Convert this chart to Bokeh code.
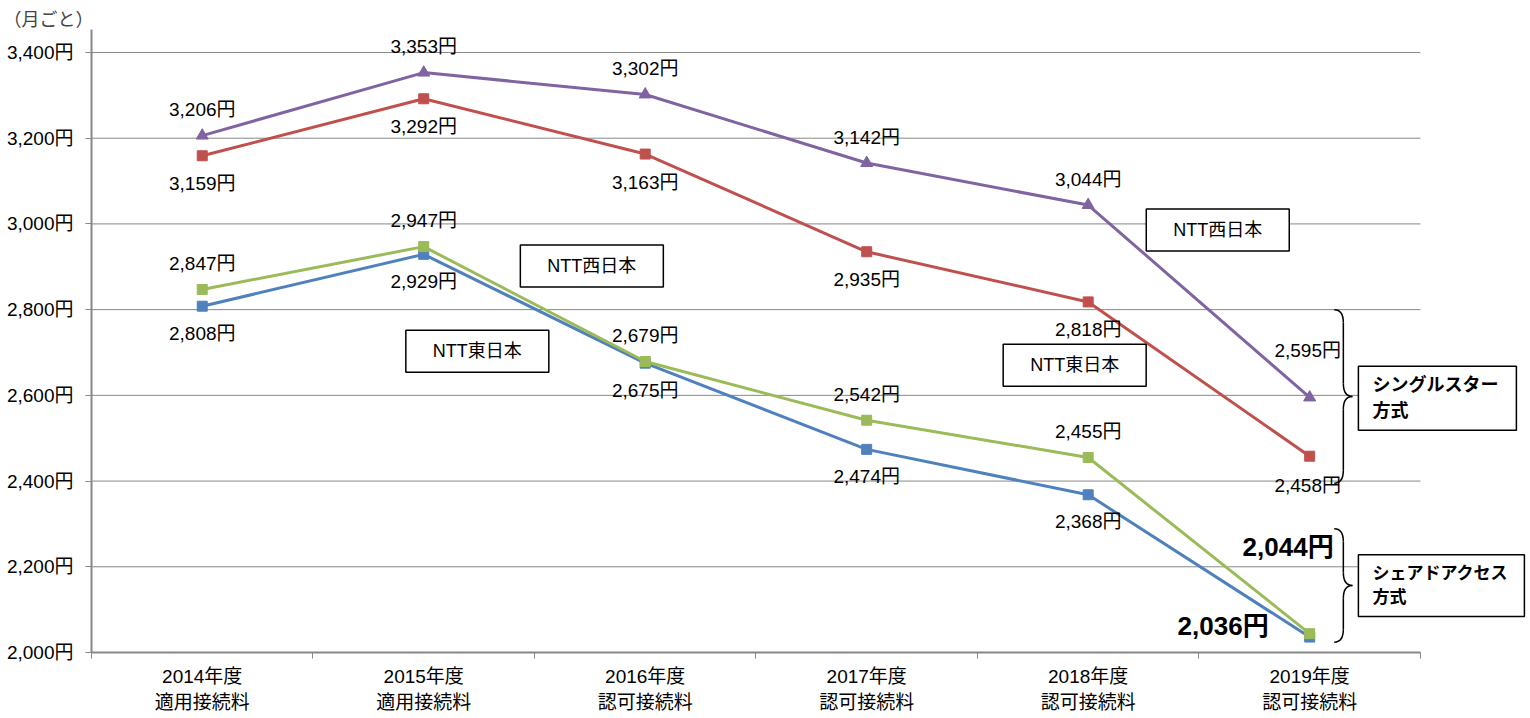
from bokeh.plotting import figure
from bokeh.models import Range1d, FixedTicker, Label, ColumnDataSource
from bokeh.core.properties import value
from bokeh.embed import file_html
from bokeh.resources import INLINE

# ---- data ----
categories = ["2014年度\n適用接続料", "2015年度\n適用接続料", "2016年度\n認可接続料",
              "2017年度\n認可接続料", "2018年度\n認可接続料", "2019年度\n認可接続料"]
west_single = [3206, 3353, 3302, 3142, 3044, 2595]   # purple, triangles
east_single = [3159, 3292, 3163, 2935, 2818, 2458]   # red
west_shared = [2847, 2947, 2679, 2542, 2455, 2044]   # green
east_shared = [2808, 2929, 2675, 2474, 2368, 2036]   # blue
y_ticks = [2000, 2200, 2400, 2600, 2800, 3000, 3200, 3400]
unit_label = "（月ごと）"

FONT = "Liberation Sans, Noto Sans CJK JP"
GRID = "#878787"
C_PURPLE = "#8064A2"
C_RED = "#C0504D"
C_GREEN = "#9BBB59"
C_BLUE = "#4F81BD"

n = len(categories)
xs = [i + 0.5 for i in range(n)]

p = figure(width=1528, height=715, x_range=Range1d(0, 6.488), y_range=Range1d(2000, 3453.6),
           output_backend="svg", toolbar_location=None,
           min_border_left=91, min_border_right=0, min_border_top=29, min_border_bottom=62)
p.outline_line_color = None
p.background_fill_color = "white"

p.title.text = unit_label
p.title.align = "left"
p.title.offset = -88
p.title.text_font = FONT
p.title.text_font_size = "18px"
p.title.text_font_style = "normal"
p.title.standoff = 0

# axes
p.yaxis.ticker = FixedTicker(ticks=y_ticks)
p.yaxis.major_label_overrides = {v: f"{v:,}円" for v in y_ticks}
p.yaxis.axis_line_color = GRID
p.yaxis.axis_line_width = 2
p.yaxis.major_tick_line_color = GRID
p.yaxis.major_tick_out = 6
p.yaxis.major_tick_in = 0
p.yaxis.minor_tick_line_color = None
p.yaxis.major_label_standoff = 12
p.yaxis.major_label_text_font = FONT
p.yaxis.major_label_text_font_size = "19px"
p.yaxis.major_label_text_color = "black"

p.xaxis.bounds = (0, n)
p.xaxis.ticker = FixedTicker(ticks=xs, minor_ticks=list(range(n + 1)))
p.xaxis.major_label_overrides = {x: c for x, c in zip(xs, categories)}
p.xaxis.axis_line_color = GRID
p.xaxis.axis_line_width = 2
p.xaxis.major_tick_line_color = None
p.xaxis.minor_tick_line_color = GRID
p.xaxis.minor_tick_out = 6
p.xaxis.minor_tick_in = 0
p.xaxis.major_label_standoff = 7
p.xaxis.major_label_text_font = FONT
p.xaxis.major_label_text_font_size = "19px"
p.xaxis.major_label_text_line_height = 1.25
p.xaxis.major_label_text_color = "black"

p.xgrid.grid_line_color = None
p.ygrid.grid_line_color = None
p.segment(x0=[0] * len(y_ticks), x1=[n] * len(y_ticks), y0=y_ticks, y1=y_ticks,
          line_color=GRID, line_width=1, level="underlay")

# lines
series = [
    (east_shared, C_BLUE, "square", 10, 27),
    (west_shared, C_GREEN, "square", 10, -26),
    (east_single, C_RED, "square", 10, 28),
    (west_single, C_PURPLE, "triangle", 12, -26),
]
for vals, col, mk, sz, off in series:
    p.line(xs, vals, line_color=col, line_width=3)
    p.scatter(xs, vals, marker=mk, size=sz, fill_color=col, line_color=col)
    src = ColumnDataSource(dict(x=xs[:-1], y=vals[:-1], t=[f"{v:,}円" for v in vals[:-1]]))
    p.text("x", "y", text="t", source=src, y_offset=off, text_align="center",
           text_baseline="middle", text_font=value(FONT), text_font_size="19px",
           text_color="black")

# 2019 labels
def lab(x, y, t, xo, yo, align="center", size="19px", style="normal"):
    p.text([x], [y], text=[t], x_offset=xo, y_offset=yo, text_align=align,
           text_baseline="middle", text_font=value(FONT), text_font_size=size,
           text_font_style=style, text_color="black")

lab(xs[-1], west_single[-1], f"{west_single[-1]:,}円", -2, -47)
lab(xs[-1], east_single[-1], f"{east_single[-1]:,}円", -2, 29)
lab(xs[-1], west_shared[-1], f"{west_shared[-1]:,}円", 24, -87, "right", "26px", "bold")
lab(xs[-1], east_shared[-1], f"{east_shared[-1]:,}円", -41, -11, "right", "26px", "bold")

# braces
def brace(x0, x1, top, bottom):
    xm = (x0 + x1) / 2
    mid = (top + bottom) / 2
    d = 30
    p.quadratic(x0=[x0, xm, x0, xm], y0=[top, mid + d, bottom, mid - d],
                x1=[xm, x1, xm, x1], y1=[top - d, mid, bottom + d, mid],
                cx=[xm, xm, xm, xm], cy=[top, mid, bottom, mid],
                line_color="black", line_width=1.5)
    p.segment(x0=[xm, xm], y0=[top - d, bottom + d], x1=[xm, xm], y1=[mid + d, mid - d],
              line_color="black", line_width=1.5)

brace(5.611, 5.693, 2800, 2395)
brace(5.611, 5.693, 2289, 2024)

# boxes
def box(x, y, t, align="center", pad=(27, 27, 11, 11), style="normal", size="18px", lh=1.2):
    p.add_layout(Label(x=x, y=y, text=t, text_align=align, text_baseline="middle",
                       text_font=FONT, text_font_size=size, text_font_style=style,
                       text_line_height=lh,
                       text_color="black", border_line_color="black", border_line_width=1.5,
                       background_fill_color="white", padding=pad))

box(2.259, 2902, "NTT西日本")
box(1.742, 2703, "NTT東日本")
box(5.085, 2986, "NTT西日本")
box(4.439, 2670, "NTT東日本")
box(5.72, 2593, "シングルスター\n方式", "left", (14, 18, 9, 9), "bold", "18px", 1.3)
box(5.72, 2156, "シェアドアクセス\n方式", "left", (14, 16, 9, 9), "bold", "17px", 1.3)

open("out.html", "w").write(file_html(p, INLINE))
